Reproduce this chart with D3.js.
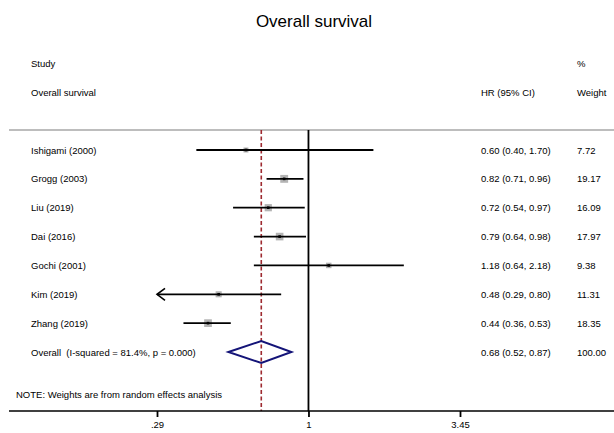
<!DOCTYPE html>
<html>
<head>
<meta charset="utf-8">
<script src="https://cdn.jsdelivr.net/npm/d3@7"></script>
<style>
  html, body { margin: 0; padding: 0; background: #fff; }
  svg { display: block; font-family: "Liberation Sans", Arial, sans-serif; }
  svg text { white-space: pre; }
</style>
</head>
<body>
<svg id="chart" width="614" height="433"></svg>
<script>
// Study data (HR with 95% CI, random-effects weights)
const studies = ['Ishigami (2000)', 'Grogg (2003)', 'Liu (2019)', 'Dai (2016)', 'Gochi (2001)', 'Kim (2019)', 'Zhang (2019)'];
const hr      = [0.60, 0.82, 0.72, 0.79, 1.18, 0.48, 0.44];
const lower   = [0.40, 0.71, 0.54, 0.64, 0.64, 0.29, 0.36];
const upper   = [1.70, 0.96, 0.97, 0.98, 2.18, 0.80, 0.53];
const weights = ['7.72', '19.17', '16.09', '17.97', '9.38', '11.31', '18.35'];

const overallLabel = 'Overall  (I-squared = 81.4%, p = 0.000)';
const overallHr = 0.68, overallLo = 0.52, overallHi = 0.87;
const overallWeight = '100.00';

const xTicks = [0.29, 1, 3.45];
const xTickLabels = ['.29', '1', '3.45'];

const svg = d3.select('#chart');
const W = 614;

const x = d3.scaleLog().domain([0.29, 3.45]).range([157, 460]);
const rowY = d3.scalePoint()
  .domain([...studies, 'overall'])
  .range([150, 352]);

const topY = 130, axisY = 411;
const fs = 9.5;
const fmt = (v) => v.toFixed(2);

// Title
svg.append('text')
  .attr('x', 314).attr('y', 27)
  .attr('text-anchor', 'middle')
  .attr('font-size', 17)
  .text('Overall survival');

// Column headers
const hdr = svg.append('g').attr('font-size', fs).attr('fill', '#000');
hdr.append('text').attr('x', 31).attr('y', 67).text('Study');
hdr.append('text').attr('x', 31).attr('y', 96).text('Overall survival');
hdr.append('text').attr('x', 481).attr('y', 96).text('HR (95% CI)');
hdr.append('text').attr('x', 577).attr('y', 67).text('%');
hdr.append('text').attr('x', 577).attr('y', 96).text('Weight');

// Header separator
svg.append('line')
  .attr('x1', 9).attr('x2', W)
  .attr('y1', topY).attr('y2', topY)
  .attr('stroke', '#bdbdbd').attr('stroke-width', 2);

// Null line
svg.append('line')
  .attr('x1', x(1)).attr('x2', x(1))
  .attr('y1', topY).attr('y2', axisY)
  .attr('stroke', '#000').attr('stroke-width', 1.8);

// Overall effect dashed line
svg.append('line')
  .attr('x1', x(overallHr)).attr('x2', x(overallHr))
  .attr('y1', topY).attr('y2', axisY)
  .attr('stroke', '#9e2a30').attr('stroke-width', 1.6)
  .attr('stroke-dasharray', '4 2.5');

// Study rows
const rows = svg.append('g');
studies.forEach((s, i) => {
  const y = rowY(s);
  const lo = Math.max(lower[i], x.domain()[0]);
  const clipped = lower[i] <= x.domain()[0];
  const side = 1.8 * Math.sqrt(+weights[i]);

  rows.append('rect')
    .attr('x', x(hr[i]) - side / 2).attr('y', y - side / 2)
    .attr('width', side).attr('height', side)
    .attr('fill', '#b4b4b4');

  rows.append('line')
    .attr('x1', x(lo)).attr('x2', x(Math.min(upper[i], x.domain()[1])))
    .attr('y1', y).attr('y2', y)
    .attr('stroke', '#000').attr('stroke-width', 1.8);

  if (clipped) {
    rows.append('path')
      .attr('d', `M${x(lo) + 8},${y - 6}L${x(lo)},${y}L${x(lo) + 8},${y + 6}`)
      .attr('fill', 'none').attr('stroke', '#000').attr('stroke-width', 1.6);
  }

  rows.append('rect')
    .attr('x', x(hr[i]) - 1.3).attr('y', y - 1.3)
    .attr('width', 2.6).attr('height', 2.6)
    .attr('fill', '#000');

  rows.append('text').attr('x', 31).attr('y', y + 3.5).attr('font-size', fs).text(s);
  rows.append('text').attr('x', 481).attr('y', y + 3.5).attr('font-size', fs)
    .text(`${fmt(hr[i])} (${fmt(lower[i])}, ${fmt(upper[i])})`);
  rows.append('text').attr('x', 577).attr('y', y + 3.5).attr('font-size', fs).text(weights[i]);
});

// Overall diamond
const oy = rowY('overall');
svg.append('path')
  .attr('d', `M${x(overallLo)},${oy}L${x(overallHr)},${oy - 11}L${x(overallHi)},${oy}L${x(overallHr)},${oy + 11}Z`)
  .attr('fill', 'none').attr('stroke', '#141478').attr('stroke-width', 2);
svg.append('text').attr('x', 31).attr('y', oy + 3.5).attr('font-size', fs).text(overallLabel);
svg.append('text').attr('x', 481).attr('y', oy + 3.5).attr('font-size', fs)
  .text(`${fmt(overallHr)} (${fmt(overallLo)}, ${fmt(overallHi)})`);
svg.append('text').attr('x', 577).attr('y', oy + 3.5).attr('font-size', fs).text(overallWeight);

// Note
svg.append('text').attr('x', 16).attr('y', 398).attr('font-size', fs)
  .text('NOTE: Weights are from random effects analysis');

// Axis
svg.append('line')
  .attr('x1', 9).attr('x2', W)
  .attr('y1', axisY).attr('y2', axisY)
  .attr('stroke', '#000').attr('stroke-width', 1.6);

const axis = d3.axisBottom(x)
  .tickValues(xTicks)
  .tickFormat((d, i) => xTickLabels[i])
  .tickSize(6).tickSizeOuter(0).tickPadding(4);

const ag = svg.append('g')
  .attr('transform', `translate(0,${axisY})`)
  .call(axis);
ag.select('.domain').remove();
ag.selectAll('.tick line').attr('stroke', '#000').attr('stroke-width', 1.8);
ag.selectAll('.tick text')
  .attr('font-size', fs)
  .attr('font-family', '"Liberation Sans", Arial, sans-serif')
  .attr('fill', '#000');
</script>
</body>
</html>
